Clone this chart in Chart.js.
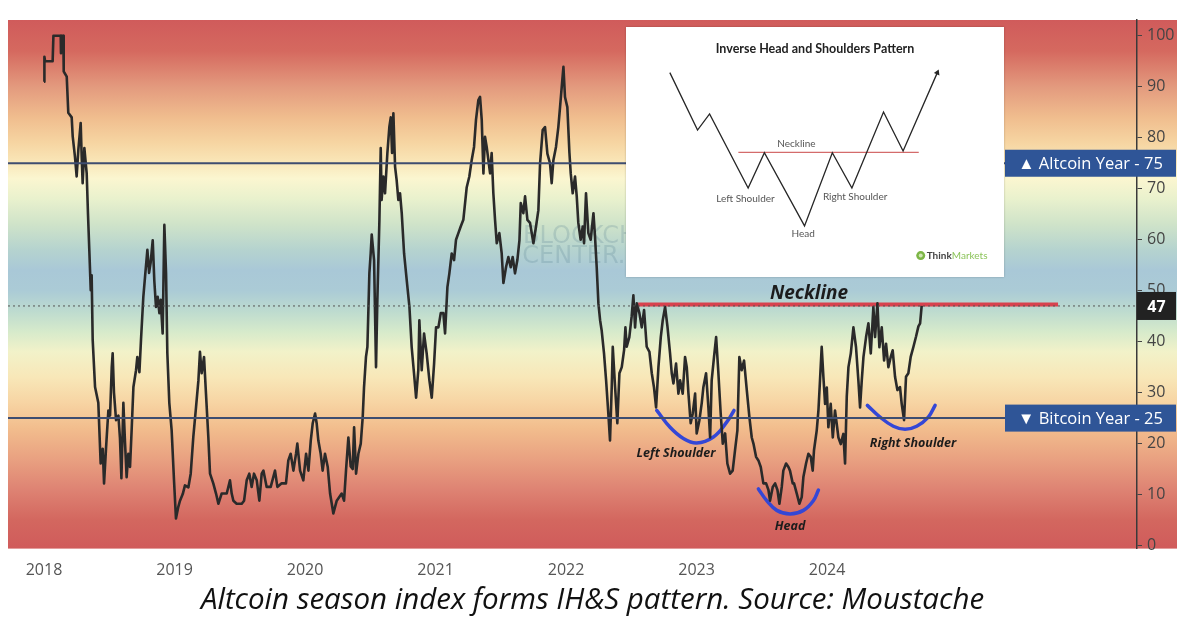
<!DOCTYPE html>
<html><head><meta charset="utf-8">
<script src="https://cdn.jsdelivr.net/npm/chart.js@4.4.1/dist/chart.umd.min.js"></script>
<style>
html,body{margin:0;padding:0;background:#fff;}
#wrap{position:relative;width:1200px;height:625px;overflow:hidden;}
#main{position:absolute;left:0;top:0;}
#inset{position:absolute;left:626px;top:27px;width:378px;height:250px;background:#fff;box-shadow:0 0 2px rgba(0,0,0,0.25);}
#insetCanvas{display:block;}
</style></head><body>
<div id="wrap"><canvas id="main" width="1200" height="625"></canvas><div id="inset"><canvas id="insetCanvas" width="378" height="250"></canvas></div></div>
<script>
// ---------- DATA (decimal year, altcoin season index) ----------
const idx2018 = [[2018.000,91.0],[2018.003,95.9],[2018.008,95.0],[2018.066,95.0],[2018.072,100],[2018.128,100],[2018.130,96.6],[2018.135,100],[2018.148,100],[2018.151,93],[2018.174,92],[2018.186,84.9],[2018.212,84],[2018.220,80.2],[2018.237,76.3],[2018.250,72.4],[2018.263,77.6],[2018.281,82.9],[2018.289,76],[2018.296,71.1],[2018.309,78],[2018.327,73],[2018.337,65],[2018.347,58],[2018.358,50.1],[2018.365,53],[2018.373,40.3],[2018.391,31.1],[2018.416,28],[2018.434,16.1],[2018.450,19],[2018.460,12.2],[2018.475,19],[2018.493,26.5],[2018.506,25.5],[2018.519,35],[2018.526,37.7],[2018.536,30],[2018.552,24.6],[2018.570,25.5],[2018.582,21],[2018.593,13.2],[2018.608,28],[2018.621,20],[2018.633,13.4],[2018.646,18],[2018.659,15.4],[2018.672,23],[2018.685,31.1],[2018.705,34.4],[2018.715,37],[2018.731,34],[2018.743,40.3],[2018.761,48.8],[2018.774,52.7],[2018.792,58],[2018.805,53.5],[2018.817,55.5],[2018.833,59.9],[2018.845,52],[2018.858,46.8],[2018.871,48.8],[2018.884,45.6],[2018.894,48.2],[2018.909,41.6],[2018.922,62.9],[2018.935,53.5],[2018.945,37.7],[2018.960,28],[2018.978,22.6],[2018.996,12.8]];
const idx2019 = [[2019.011,5.3],[2019.029,7.6],[2019.042,8.8],[2019.063,10.1],[2019.080,11.8],[2019.106,11.4],[2019.124,14.1],[2019.144,21.3],[2019.165,27.2],[2019.183,32.4],[2019.195,38],[2019.208,33.8],[2019.226,37],[2019.241,29.8],[2019.259,21.3],[2019.272,14.1],[2019.297,12.2],[2019.318,10.2],[2019.336,8.2],[2019.361,10.2],[2019.400,10.2],[2019.425,12.8],[2019.438,10.2],[2019.451,8.8],[2019.476,8.2],[2019.515,8.2],[2019.533,8.8],[2019.553,12.8],[2019.573,14.1],[2019.591,11.5],[2019.609,14.1],[2019.630,12.8],[2019.650,8.8],[2019.668,14.1],[2019.681,14.7],[2019.706,11.5],[2019.737,11.5],[2019.770,14.7],[2019.788,11.5],[2019.821,12.2],[2019.854,12.2],[2019.872,16.7],[2019.890,18],[2019.911,14.7],[2019.931,18],[2019.941,20],[2019.962,14.7],[2019.987,12.8]];
const idx2020 = [[2020.008,18],[2020.026,14.7],[2020.044,20.6],[2020.059,24],[2020.077,25.9],[2020.089,24],[2020.102,20.6],[2020.120,18],[2020.135,14.7],[2020.153,18],[2020.174,15.4],[2020.192,10.2],[2020.217,6.3],[2020.243,8.8],[2020.281,10.2],[2020.299,8.8],[2020.314,14.7],[2020.332,21.2],[2020.350,15.5],[2020.365,15],[2020.376,23.2],[2020.391,14.1],[2020.409,18],[2020.427,20],[2020.442,25.2],[2020.452,31],[2020.467,37],[2020.478,39],[2020.493,53.4],[2020.503,57.3],[2020.511,61],[2020.529,56],[2020.544,35],[2020.554,48],[2020.570,63.9],[2020.580,78],[2020.587,67.8],[2020.600,72.4],[2020.613,69.1],[2020.631,77],[2020.646,82.1],[2020.657,84],[2020.667,77],[2020.677,84.8],[2020.690,74.3],[2020.702,71.7],[2020.715,67.8],[2020.728,69.1],[2020.741,65.2],[2020.759,57.3],[2020.779,52.1],[2020.800,46.8],[2020.817,39],[2020.835,33.8],[2020.851,29],[2020.868,34.4],[2020.876,44.2],[2020.894,34.4],[2020.912,41.6],[2020.932,37.7],[2020.953,32.4],[2020.971,29],[2020.989,35.7]];
const idx2021 = [[2021.004,42.8],[2021.022,42.8],[2021.040,45.6],[2021.060,45.6],[2021.073,41.6],[2021.091,50.7],[2021.106,53.4],[2021.124,57.3],[2021.142,56],[2021.157,60],[2021.175,61.3],[2021.193,62.6],[2021.213,63.9],[2021.239,70.3],[2021.259,72.4],[2021.277,75.6],[2021.295,78.2],[2021.310,83.5],[2021.328,87.4],[2021.341,88],[2021.354,83.5],[2021.367,73],[2021.379,80.2],[2021.392,78.2],[2021.405,75.6],[2021.418,73],[2021.430,77],[2021.443,69.1],[2021.456,63.9],[2021.469,59.3],[2021.489,61.3],[2021.507,57.3],[2021.520,51.5],[2021.540,54.6],[2021.558,56.6],[2021.576,54.6],[2021.591,56.6],[2021.609,53.4],[2021.627,56],[2021.643,59.9],[2021.653,67.2],[2021.673,65.2],[2021.686,68.5],[2021.704,63.9],[2021.724,63.3],[2021.737,61.3],[2021.750,59.3],[2021.770,62.6],[2021.788,65.8],[2021.801,75],[2021.821,81.5],[2021.839,82.1],[2021.857,76.9],[2021.877,75],[2021.890,71.1],[2021.903,75.6],[2021.923,78.2],[2021.941,82.1],[2021.954,86],[2021.967,90],[2021.980,93.9],[2021.992,88]];
const idx2022 = [[2022.010,86],[2022.026,77],[2022.036,73],[2022.051,69.1],[2022.069,72.4],[2022.082,68.5],[2022.094,63.3],[2022.112,60],[2022.128,62.6],[2022.138,59.3],[2022.153,69.1],[2022.171,61.3],[2022.189,60],[2022.210,65.2],[2022.222,60.6],[2022.235,54.6],[2022.248,47.5],[2022.261,44.2],[2022.273,42.2],[2022.291,37.7],[2022.307,32.4],[2022.324,25.9],[2022.337,20.6],[2022.350,31],[2022.358,39],[2022.376,31],[2022.393,24],[2022.409,33.8],[2022.427,35],[2022.445,38.4],[2022.455,42.8],[2022.465,39],[2022.485,40.9],[2022.503,45],[2022.516,49.1],[2022.529,42.8],[2022.542,47.5],[2022.562,45.6],[2022.580,42.8],[2022.598,46.2],[2022.618,39],[2022.639,38],[2022.657,33.8],[2022.674,31],[2022.690,27.1],[2022.708,35],[2022.726,40.9],[2022.741,44.2],[2022.759,46.8],[2022.777,43],[2022.797,37.7],[2022.810,33.8],[2022.823,31.8],[2022.843,35.7],[2022.861,29.8],[2022.874,32.4],[2022.894,29.8],[2022.912,37],[2022.925,35],[2022.938,29.8],[2022.955,24],[2022.971,25.9],[2022.989,29.8]];
const idx2023 = [[2023.001,22],[2023.022,24.6],[2023.040,28],[2023.052,31],[2023.073,33.8],[2023.091,27],[2023.104,21.2],[2023.116,32.4],[2023.134,37],[2023.150,40.9],[2023.167,34],[2023.185,25.9],[2023.201,20],[2023.219,22],[2023.236,16.1],[2023.257,14.1],[2023.277,14.7],[2023.295,18.7],[2023.313,22.6],[2023.328,37],[2023.346,34.4],[2023.364,36.3],[2023.385,30.5],[2023.405,25.2],[2023.423,21.2],[2023.436,20],[2023.456,17.4],[2023.474,16.7],[2023.492,15.4],[2023.512,12.2],[2023.533,12.2],[2023.551,10.9],[2023.563,8.8],[2023.584,11.5],[2023.602,12.2],[2023.620,10.9],[2023.635,8.2],[2023.653,11.5],[2023.665,14.7],[2023.686,16.1],[2023.704,15.4],[2023.716,14.7],[2023.737,12.2],[2023.747,12.2],[2023.768,10.2],[2023.788,8.2],[2023.806,9.5],[2023.819,13.5],[2023.839,16.1],[2023.857,18],[2023.875,17.4],[2023.890,14.7],[2023.900,18.7],[2023.921,22.6],[2023.934,26.5],[2023.946,32.4],[2023.959,39],[2023.972,33.1],[2023.985,27.8],[2023.998,31]];
const idx2024 = [[2024.010,23.2],[2024.028,27.8],[2024.044,21.2],[2024.061,26.5],[2024.074,23.9],[2024.087,21.2],[2024.105,19.9],[2024.125,21.9],[2024.138,16.1],[2024.151,29.2],[2024.164,35],[2024.182,37.7],[2024.202,42.8],[2024.222,38.9],[2024.240,32.4],[2024.253,27.1],[2024.266,32.4],[2024.279,37],[2024.299,40.9],[2024.317,43.6],[2024.335,37.7],[2024.355,46.8],[2024.368,40.9],[2024.386,47.5],[2024.401,38.9],[2024.419,42.8],[2024.437,36.3],[2024.452,39.6],[2024.470,35],[2024.488,37],[2024.503,38.3],[2024.521,33.1],[2024.539,30.5],[2024.559,31.1],[2024.572,27.8],[2024.590,24.6],[2024.605,33.1],[2024.623,33.8],[2024.641,37],[2024.662,39],[2024.682,41],[2024.700,43],[2024.713,43.6],[2024.725,47]];

const yearTicks = [2018, 2019, 2020, 2021, 2022, 2023, 2024];
const valueTicks = [0, 10, 20, 30, 40, 50, 60, 70, 80, 90, 100];
const altcoinYearLevel = 75;
const bitcoinYearLevel = 25;
const necklineLevel = 47.3;
const necklineSpan = [2022.552, 2025.770];
const leftShoulderArc = [[2022.695,26.5],[2022.797,23.2],[2022.899,21.0],[2023.001,20.1],[2023.129,21.3],[2023.231,24.2],[2023.287,26.5]];
const headArc = [[2023.474,11.1],[2023.538,8.8],[2023.615,6.9],[2023.717,6.2],[2023.819,6.9],[2023.895,8.8],[2023.934,10.9]];
const rightShoulderArc = [[2024.309,27.5],[2024.406,25.2],[2024.508,23.4],[2024.598,22.8],[2024.687,23.4],[2024.776,25.2],[2024.828,27.5]];
const annotationLabels = [
  {text:'Neckline', x:2023.862, y:49.5, size:19},
  {text:'Left Shoulder', x:2022.843, y:18.1, size:12.5},
  {text:'Head', x:2023.717, y:3.7, size:12.5},
  {text:'Right Shoulder', x:2024.659, y:20.0, size:12.5}
];
const captionText = 'Altcoin season index forms IH&S pattern. Source: Moustache';

// inset diagram (Inverse Head and Shoulders reference picture)
const patternX = [40.7, 69, 81.3, 120.7, 137.3, 178.3, 206.7, 226.7, 259, 279, 314];
const patternY = [207, 147.7, 164.3, 87.7, 124.3, 48.7, 124.3, 87.7, 166.3, 126, 207];
const insetNeckX = [110.7, 295];
const insetNeckLevel = 124.7;
const insetLabels = [
  {text:'Neckline', x:170, y:133},
  {text:'Left Shoulder', x:118, y:77},
  {text:'Head', x:177, y:41},
  {text:'Right Shoulder', x:230, y:79}
];

const bandStops = [[103.1,'#d05b5b'],[97,'#d5695f'],[90,'#e39a7e'],[84,'#f0bd8e'],[79,'#f6d5a2'],[75.5,'#f9e5b6'],[72,'#fbf6d0'],[68,'#e9f1cd'],[63,'#cfe3c9'],[58,'#b5d3cf'],[54,'#a9c8d7'],[50,'#abcbd6'],[46,'#bddbcf'],[42,'#d6eacb'],[38,'#f2f2c9'],[33,'#f8e7b8'],[28,'#f7d4a3'],[23,'#f2bd8d'],[17,'#e9a181'],[11,'#de8373'],[5,'#d3675f'],[-0.6,'#d05b5b']];

// ---------- helpers ----------
const allSeries = [].concat(idx2018, idx2019, idx2020, idx2021, idx2022, idx2023, idx2024);
const lastValue = idx2024[idx2024.length - 1][1];
const X_MIN = 2017.724, X_MAX = 2026.375;
const toPts = arr => arr.map(p => ({x: p[0], y: p[1]}));

const bgPlugin = {
  id: 'bg',
  beforeDraw(chart) {
    const {ctx, chartArea: a, scales: {y}} = chart;
    const top = y.getPixelForValue(y.max), bot = y.getPixelForValue(y.min);
    const g = ctx.createLinearGradient(0, top, 0, bot);
    bandStops.forEach(([v, c]) => g.addColorStop(Math.min(1, Math.max(0, (y.max - v) / (y.max - y.min))), c));
    ctx.save();
    ctx.fillStyle = g;
    ctx.fillRect(a.left, top, (a.right + 40) - a.left, bot - top);
    ctx.restore();
  },
  beforeDatasetsDraw(chart) {
    const {ctx, scales: {x, y}} = chart;
    ctx.save();
    ctx.fillStyle = 'rgba(80,125,140,0.22)';
    ctx.font = '24px "DejaVu Sans"';
    ctx.textBaseline = 'middle';
    ctx.fillText('BLOCKCHAIN', x.getPixelForValue(2021.671), y.getPixelForValue(60.5));
    ctx.fillText('CENTER.NET', x.getPixelForValue(2021.665), y.getPixelForValue(56.6));
    ctx.restore();
  },
  afterDatasetsDraw(chart) {
    const {ctx, scales: {x, y}} = chart;
    ctx.save();
    ctx.textAlign = 'center';
    ctx.textBaseline = 'middle';
    ctx.fillStyle = '#1c1c1c';
    annotationLabels.forEach(l => {
      ctx.font = 'italic bold ' + l.size + 'px "Open Sans"';
      ctx.fillText(l.text, x.getPixelForValue(l.x), y.getPixelForValue(l.y));
    });
    ctx.restore();
  },
  afterDraw(chart) {
    const {ctx, chartArea: a, scales: {y}} = chart;
    const right = a.right + 39;
    function tag(x1, x2, val, h, fill, text, font) {
      const yc = y.getPixelForValue(val);
      ctx.fillStyle = fill;
      ctx.fillRect(x1, yc - h / 2, x2 - x1, h);
      ctx.fillStyle = '#fff';
      ctx.font = font;
      ctx.textAlign = 'center';
      ctx.textBaseline = 'middle';
      ctx.fillText(text, (x1 + x2) / 2, yc + 1);
    }
    ctx.save();
    tag(a.right - 132, right, altcoinYearLevel, 27, '#2f5597', '\u25B2 Altcoin Year - ' + altcoinYearLevel, '16.5px "Open Sans"');
    tag(a.right - 132, right, bitcoinYearLevel, 27, '#2f5597', '\u25BC Bitcoin Year - ' + bitcoinYearLevel, '16.5px "Open Sans"');
    tag(a.right, right, lastValue, 28, '#222222', String(lastValue), 'bold 16px "Open Sans"');
    ctx.restore();
  }
};

new Chart(document.getElementById('main'), {
  type: 'line',
  data: {
    datasets: [
      {data: [{x: X_MIN, y: altcoinYearLevel}, {x: X_MAX, y: altcoinYearLevel}], borderColor: '#3e4d70', borderWidth: 2, pointRadius: 0},
      {data: [{x: X_MIN, y: bitcoinYearLevel}, {x: X_MAX, y: bitcoinYearLevel}], borderColor: '#3e4d70', borderWidth: 2, pointRadius: 0},
      {data: [{x: X_MIN, y: lastValue}, {x: X_MAX, y: lastValue}], borderColor: '#555', borderWidth: 1, borderDash: [2, 3], pointRadius: 0},
      {data: toPts(allSeries), borderColor: '#2a2a2a', borderWidth: 2.6, pointRadius: 0, tension: 0, borderJoinStyle: 'round'},
      {data: [{x: necklineSpan[0], y: necklineLevel}, {x: necklineSpan[1], y: necklineLevel}], borderColor: '#d8424e', borderWidth: 4, pointRadius: 0},
      {data: toPts(leftShoulderArc), borderColor: '#3447d6', borderWidth: 3.5, pointRadius: 0, tension: 0.4, borderCapStyle: 'round'},
      {data: toPts(headArc), borderColor: '#3447d6', borderWidth: 3.5, pointRadius: 0, tension: 0.4, borderCapStyle: 'round'},
      {data: toPts(rightShoulderArc), borderColor: '#3447d6', borderWidth: 3.5, pointRadius: 0, tension: 0.4, borderCapStyle: 'round'}
    ]
  },
  options: {
    responsive: false,
    animation: false,
    parsing: true,
    layout: {padding: {left: 8, right: 23, top: 20, bottom: 0}},
    plugins: {
      legend: {display: false},
      tooltip: {enabled: false},
      title: {display: true, position: 'bottom', text: captionText, color: '#111',
        font: {family: 'Open Sans', style: 'italic', weight: 'normal', size: 29.5, lineHeight: 1.2},
        padding: {top: 2, bottom: 7}}
    },
    scales: {
      x: {
        type: 'linear', min: X_MIN, max: X_MAX,
        afterBuildTicks: s => { s.ticks = yearTicks.map(v => ({value: v})); },
        afterFit: s => { s.height = 32; },
        grid: {display: false, drawTicks: false, tickLength: 0},
        border: {display: false},
        ticks: {callback: v => String(v), color: '#555', padding: 12, maxRotation: 0, font: {family: 'Open Sans', size: 16}}
      },
      y: {
        position: 'right', min: -0.6, max: 103.1,
        afterBuildTicks: s => { s.ticks = valueTicks.map(v => ({value: v})); },
        afterFit: s => { s.width = 40; },
        grid: {drawOnChartArea: false, drawTicks: true, tickLength: 5, color: '#444'},
        border: {display: true, color: '#3a3a3a', width: 1.5},
        ticks: {color: '#444', padding: 5, font: {family: 'Open Sans', size: 16}}
      }
    }
  },
  plugins: [bgPlugin]
});

// ---------- inset diagram ----------
const insetText = {
  id: 'insetText',
  afterDatasetsDraw(chart) {
    const {ctx, scales: {x, y}} = chart;
    ctx.save();
    ctx.textAlign = 'center';
    ctx.textBaseline = 'middle';
    ctx.fillStyle = '#222';
    ctx.font = 'bold 12.5px Lato';
    ctx.fillText('Inverse Head and Shoulders Pattern', x.getPixelForValue(189), y.getPixelForValue(231));
    ctx.fillStyle = '#555';
    ctx.font = '10px Lato';
    insetLabels.forEach(l => ctx.fillText(l.text, x.getPixelForValue(l.x), y.getPixelForValue(l.y)));
    // logo
    const lx = x.getPixelForValue(297), ly = y.getPixelForValue(18);
    ctx.beginPath(); ctx.arc(lx, ly, 4.5, 0, Math.PI * 2); ctx.fillStyle = '#7db646'; ctx.fill();
    ctx.beginPath(); ctx.arc(lx, ly, 2, 0, Math.PI * 2); ctx.fillStyle = '#cfe6b4'; ctx.fill();
    ctx.textAlign = 'left';
    ctx.font = 'bold 10px Lato';
    ctx.fillStyle = '#444';
    ctx.fillText('Think', lx + 6, ly);
    const w = ctx.measureText('Think').width;
    ctx.font = '10px Lato';
    ctx.fillStyle = '#8cc45a';
    ctx.fillText('Markets', lx + 6 + w, ly);
    ctx.restore();
  }
};

new Chart(document.getElementById('insetCanvas'), {
  type: 'line',
  data: {
    datasets: [
      {data: patternX.map((v, i) => ({x: v, y: patternY[i]})), borderColor: '#262626', borderWidth: 1.3, tension: 0,
        pointRadius: patternX.map((_, i) => i === patternX.length - 1 ? 3.5 : 0), pointStyle: 'triangle', pointRotation: 23,
        pointBackgroundColor: '#262626', pointBorderColor: '#262626', pointBorderWidth: 0},
      {data: [{x: insetNeckX[0], y: insetNeckLevel}, {x: insetNeckX[1], y: insetNeckLevel}], borderColor: '#d46b6b', borderWidth: 1.2, pointRadius: 0}
    ]
  },
  options: {
    responsive: false, animation: false,
    layout: {padding: 0},
    plugins: {legend: {display: false}, tooltip: {enabled: false}},
    scales: {x: {type: 'linear', min: 0, max: 378, display: false}, y: {min: 0, max: 250, display: false}}
  },
  plugins: [insetText]
});
</script>
</body></html>
